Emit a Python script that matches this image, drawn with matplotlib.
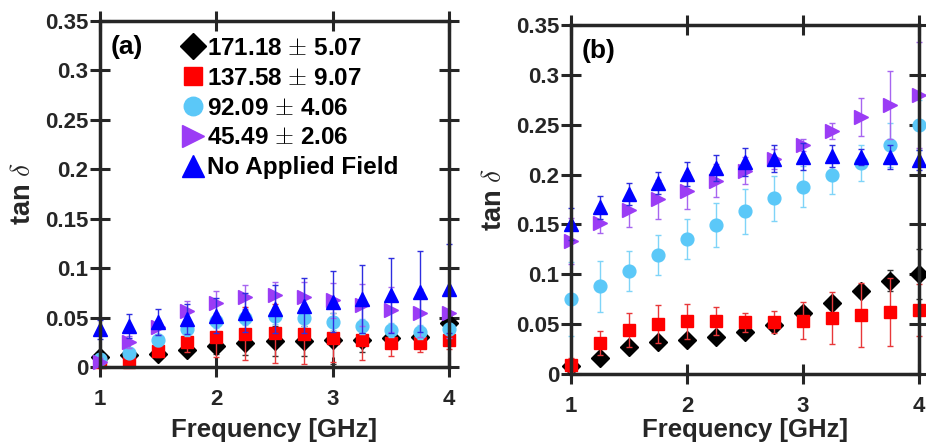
import matplotlib
matplotlib.use("Agg")
import matplotlib.pyplot as plt
from matplotlib.ticker import FuncFormatter

plt.rcParams['font.family'] = ['Liberation Sans', 'DejaVu Sans']
plt.rcParams['font.weight'] = 'bold'
plt.rcParams['mathtext.fontset'] = 'cm'

freq = [1, 1.25, 1.5, 1.75, 2, 2.25, 2.5, 2.75, 3, 3.25, 3.5, 3.75, 4]

labels = ['171.18 $\\pm$ 5.07', '137.58 $\\pm$ 9.07', '92.09 $\\pm$ 4.06',
          '45.49 $\\pm$ 2.06', 'No Applied Field']

# panel (a)
a_black = [0.010, 0.012, 0.013, 0.0175, 0.0215, 0.024, 0.026, 0.026, 0.027, 0.0276, 0.029, 0.030, 0.045]
a_black_err = [0.003, 0.003, 0.003, 0.005, 0.008, 0.012, 0.015, 0.015, 0.024, 0.012, 0.010, 0.008, 0.005]
a_red = [0.005, 0.0047, 0.016, 0.025, 0.030, 0.0337, 0.034, 0.033, 0.0296, 0.027, 0.024, 0.024, 0.027]
a_red_err = [0.003, 0.004, 0.006, 0.010, 0.020, 0.027, 0.030, 0.030, 0.025, 0.020, 0.013, 0.009, 0.009]
a_cyan = [0.008, 0.014, 0.027, 0.038, 0.047, 0.050, 0.052, 0.050, 0.046, 0.041, 0.037, 0.0357, 0.038]
a_cyan_err = [0.004, 0.005, 0.006, 0.007, 0.008, 0.008, 0.009, 0.009, 0.009, 0.008, 0.007, 0.007, 0.006]
a_purple = [0.005, 0.0256, 0.040, 0.0565, 0.065, 0.0707, 0.0727, 0.0713, 0.0673, 0.0626, 0.058, 0.0545, 0.0545]
a_purple_err = [0.004, 0.006, 0.008, 0.010, 0.012, 0.012, 0.013, 0.015, 0.018, 0.021, 0.023, 0.024, 0.025]
a_blue = [0.038, 0.0417, 0.0458, 0.0485, 0.052, 0.055, 0.0586, 0.062, 0.066, 0.0687, 0.0727, 0.076, 0.0794]
a_blue_err = [0.010, 0.012, 0.013, 0.015, 0.018, 0.020, 0.024, 0.028, 0.031, 0.034, 0.038, 0.041, 0.045]

# panel (b)
b_black = [0.008, 0.016, 0.0267, 0.032, 0.034, 0.0374, 0.042, 0.0488, 0.061, 0.071, 0.083, 0.0936, 0.100]
b_black_err = [0.003, 0.004, 0.004, 0.004, 0.004, 0.004, 0.004, 0.005, 0.006, 0.006, 0.006, 0.0106, 0.025]
b_red = [0.0087, 0.0308, 0.044, 0.050, 0.0528, 0.0528, 0.052, 0.052, 0.0535, 0.056, 0.0588, 0.062, 0.064]
b_red_err = [0.007, 0.012, 0.0167, 0.0187, 0.0174, 0.014, 0.0094, 0.0107, 0.0185, 0.026, 0.032, 0.034, 0.026]
b_cyan = [0.075, 0.088, 0.1036, 0.119, 0.135, 0.149, 0.163, 0.176, 0.188, 0.200, 0.212, 0.2294, 0.250]
b_cyan_err = [0.037, 0.0255, 0.020, 0.020, 0.020, 0.022, 0.0227, 0.0227, 0.021, 0.019, 0.018, 0.022, 0.025]
b_purple = [0.1337, 0.1518, 0.1645, 0.175, 0.184, 0.194, 0.204, 0.2153, 0.2294, 0.2434, 0.2574, 0.270, 0.2795]
b_purple_err = [0.023, 0.010, 0.017, 0.020, 0.019, 0.017, 0.0134, 0.010, 0.006, 0.008, 0.019, 0.034, 0.053]
b_blue = [0.150, 0.167, 0.1805, 0.192, 0.2006, 0.207, 0.2126, 0.216, 0.218, 0.2187, 0.2173, 0.2173, 0.2146]
b_blue_err = [0.016, 0.012, 0.011, 0.011, 0.012, 0.013, 0.014, 0.0134, 0.0134, 0.011, 0.008, 0.012, 0.010]

colors = ['black', '#FF0000', '#5BC8F8', '#9B3CF5', '#0000FF']
markers = ['D', 's', 'o', '>', '^']
msizes = [9, 8.5, 9.2, 10.5, 10.5]
ecolors = ['#333333', '#E8383A', '#7FD4F8', '#A765F0', '#2E2EE0']

spine_col = '#262626'

fig = plt.figure(figsize=(9.26, 4.45), dpi=100)
ax_a = fig.add_axes([0.108, 0.1753, 0.377, 0.7775])
ax_b = fig.add_axes([0.6166, 0.1596, 0.3758, 0.7842])

panels = [
    (ax_a, [(a_black, a_black_err), (a_red, a_red_err), (a_cyan, a_cyan_err),
            (a_purple, a_purple_err), (a_blue, a_blue_err)], '(a)', 6),
    (ax_b, [(b_black, b_black_err), (b_red, b_red_err), (b_cyan, b_cyan_err),
            (b_purple, b_purple_err), (b_blue, b_blue_err)], '(b)', 1),
]

for ax, series, tag, xpad in panels:
    handles = []
    for i, (vals, errs) in enumerate(series):
        h = ax.errorbar(freq, vals, yerr=errs, fmt=markers[i], color=colors[i],
                        ms=msizes[i], mec=colors[i], ecolor=ecolors[i],
                        elinewidth=1, capsize=2.5, capthick=1, clip_on=False,
                        zorder=3 + i)
        handles.append(h)
    ax.set_xlim(1, 4)
    ax.set_ylim(0, 0.35)
    ax.set_xticks([1, 2, 3, 4])
    ax.set_yticks([0, 0.05, 0.1, 0.15, 0.2, 0.25, 0.3, 0.35])
    ax.yaxis.set_major_formatter(FuncFormatter(lambda v, p: '%g' % round(v, 2)))
    ax.tick_params(direction='inout', length=15, width=2.2, color=spine_col,
                   top=True, right=True, labelsize=16, labelcolor='#262626')
    ax.tick_params(axis='x', pad=8)
    ax.tick_params(axis='y', pad=1)
    for s in ax.spines.values():
        s.set_linewidth(2.5)
        s.set_color(spine_col)
        s.set_zorder(10)
    ax.set_xlabel('Frequency [GHz]', fontsize=18.5, fontweight='bold', color='#262626', labelpad=xpad)
    ax.set_ylabel('tan $\\delta$', fontsize=19.5, fontweight='bold', color='#262626', labelpad=6)
    ax.text(0.03, 0.925, tag, transform=ax.transAxes, fontsize=19, fontweight='bold',
            ha='left', va='center')
    if tag == '(a)':
        leg = ax.legend([h[0] for h in handles], labels, loc='upper left',
                        bbox_to_anchor=(0.18, 1.01), frameon=False, fontsize=17.5,
                        handlelength=0.9, handletextpad=0.1, labelspacing=0.28,
                        borderpad=0.3, markerscale=1.45)
        for t in leg.get_texts():
            t.set_fontweight('bold')

fig.savefig('out.png', dpi=100)
